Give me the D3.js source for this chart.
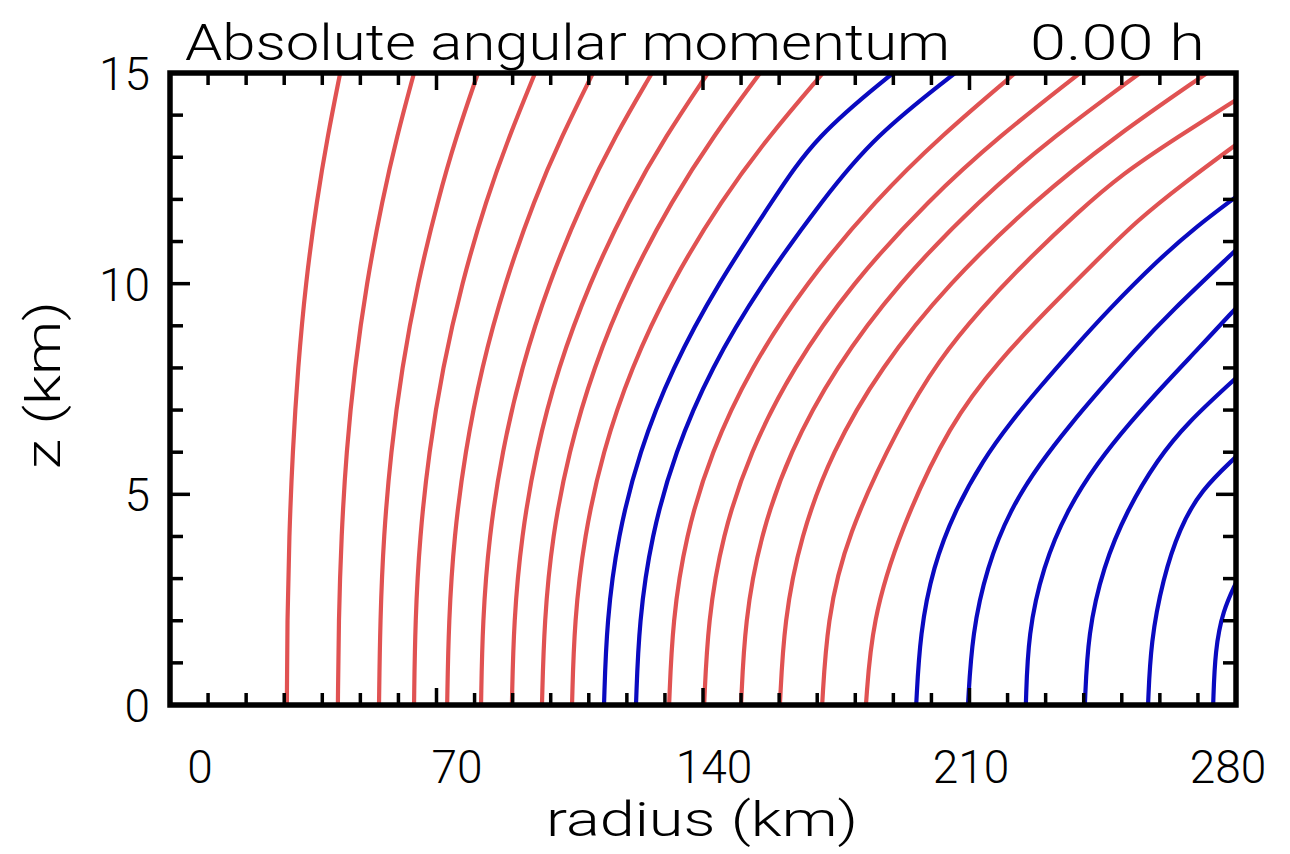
<!DOCTYPE html>
<html>
<head>
<meta charset="utf-8">
<script src="https://cdn.jsdelivr.net/npm/d3@7"></script>
<style>
  html, body { margin: 0; padding: 0; background: #fff; }
  svg { display: block; }
  text { font-family: Roboto, "DejaVu Sans", sans-serif; font-weight: 300; fill: #000; }
</style>
</head>
<body>
<svg id="chart" width="1290" height="854"></svg>
<script>
// ---- data (radius in km at given heights z in km) ----
const titleText = "Absolute angular momentum";
const timeText = "0.00 h";
const xTickLabels = [0, 70, 140, 210, 280];
const yTickLabels = [0, 5, 10, 15];
const xLabel = "radius (km)";
const yLabel = "z (km)";

// heights used for the inner contours (reach the top of the plot)
const zInner = [0, 2, 4, 6, 8, 10, 12, 13.5, 15];
const rInner = [
  [30.7, 30.8, 31.3, 32.2, 33.6, 35.6, 38.6, 41.4, 44.7],
  [44.1, 44.3, 45.0, 46.3, 48.5, 51.6, 55.8, 59.6, 64.1],
  [54.9, 55.2, 56.1, 58.0, 60.9, 65.0, 70.4, 75.2, 80.9],
  [64.1, 64.4, 65.6, 68.0, 71.6, 76.6, 83.1, 89.1, 95.9],
  [72.8, 73.2, 74.6, 77.5, 81.8, 87.9, 95.7, 102.9, 111.1],
  [81.7, 82.1, 83.8, 87.2, 92.3, 99.4, 108.6, 116.9, 126.6],
  [89.8, 90.3, 92.3, 96.1, 101.9, 110.1, 120.6, 130.2, 141.3],
  [97.7, 98.3, 100.4, 104.7, 111.2, 120.2, 132.0, 142.7, 155.0],
  [105.6, 106.2, 108.8, 113.6, 121.1, 131.5, 145.0, 157.3, 171.5],
  [114.0, 114.7, 117.6, 123.2, 131.9, 143.9, 158.5, 169.5, 189.9],
  [122.4, 123.2, 126.4, 132.6, 142.1, 155.4, 171.5, 185.0, 206.2],
  [131.1, 132.0, 135.4, 142.1, 152.5, 166.9, 185.5, 202.4, 222.0],
  [140.3, 141.3, 145.0, 152.3, 163.6, 179.1, 199.4, 217.8, 239.0],
  [150.0, 151.0, 155.0, 162.7, 174.7, 191.2, 212.7, 232.2, 254.8],
  [160.2, 161.3, 165.6, 173.8, 186.6, 204.4, 227.4, 248.3, 272.4]
];
const innerColors = ["r","r","r","r","r","r","r","r","r","b","b","r","r","r","r"];

// outer contours (leave through the right edge)
const z16 = [0, 2, 4, 6.7, 8.2, 9.4, 10.5, 11.7, 12.6, 13.5, 14.36];
const r16 = [171.3, 172.6, 177.6, 191.8, 202.0, 213.0, 224.5, 238.5, 250.0, 265.0, 280.0];
const z17 = [0, 2, 4.15, 6.7, 8.2, 9.45, 10.56, 11.5, 12.4, 13.3];
const r17 = [182.8, 184.4, 191.8, 204.9, 218.0, 231.2, 243.5, 254.0, 266.5, 280.0];
const z18 = [0, 1.71, 3.28, 4.63, 5.82, 6.69, 7.55, 8.43, 9.38, 10.56, 11.35, 12.06];
const r18 = [196.0, 197.0, 200.4, 206.2, 213.6, 220.6, 228.5, 237.0, 246.5, 259.5, 269.5, 280.0];
const z19 = [0, 1.71, 3.28, 4.63, 5.74, 6.69, 7.4, 8.43, 9.3, 10.8];
const r19 = [209.6, 210.7, 214.6, 220.6, 228.5, 236.8, 243.5, 253.5, 262.5, 280.0];
const z20 = [0, 1.71, 3.28, 4.63, 5.74, 6.69, 7.64, 8.43, 9.42];
const r20 = [224.8, 225.4, 229.3, 235.6, 243.5, 252.0, 261.5, 269.8, 280.0];
const z21 = [0, 1.71, 3.28, 4.63, 5.82, 6.69, 7.76];
const r21 = [240.3, 241.1, 245.1, 251.4, 259.3, 267.1, 280.0];
const z22 = [0, 1.5, 3.0, 4.2, 5.1, 5.89];
const r22 = [256.9, 257.6, 260.8, 265.2, 270.8, 280.0];
const z23 = [0, 1.31, 2.25, 2.9];
const r23 = [274.0, 274.5, 276.6, 280.0];
const outerZ = [z16, z17, z18, z19, z20, z21, z22, z23];
const outerR = [r16, r17, r18, r19, r20, r21, r22, r23];
const outerColors = ["r","r","b","b","b","b","b","b"];

// ---- drawing ----
const svg = d3.select("#chart");
const L = 170, R = 1236, T = 73, B = 705;
const x = d3.scaleLinear().domain([0, 280]).range([L, R]);
const y = d3.scaleLinear().domain([0, 15]).range([B, T]);
// IDL-like label placement (labels spread slightly inside the frame)
const xLab = d3.scaleLinear().domain([0, 280]).range([200, 1228]);
const colorMap = { r: "#e05252", b: "#0a0ac0" };

svg.append("defs").append("clipPath").attr("id", "clip")
  .append("rect").attr("x", L).attr("y", T).attr("width", R - L).attr("height", B - T);

const lineGen = d3.line().x(d => x(d[0])).y(d => y(d[1])).curve(d3.curveBasis);
const g = svg.append("g").attr("clip-path", "url(#clip)");

const allLines = [];
rInner.forEach((rs, i) => allLines.push({ pts: rs.map((r, j) => [r, zInner[j]]), c: innerColors[i] }));
outerR.forEach((rs, i) => allLines.push({ pts: rs.map((r, j) => [r, outerZ[i][j]]), c: outerColors[i] }));

g.selectAll("path.contour").data(allLines).join("path")
  .attr("class", "contour")
  .attr("d", d => lineGen(d.pts))
  .attr("fill", "none")
  .attr("stroke", d => colorMap[d.c])
  .attr("stroke-width", 4.2)
  .attr("stroke-linejoin", "round");

// ticks (inward)
const xMinor = d3.range(10, 280, 10);
const yMinor = d3.range(1, 15, 1);
const tickG = svg.append("g").attr("stroke", "#000").attr("stroke-width", 3.5);
xMinor.forEach(v => {
  const len = (v % 70 === 0) ? 17 : 12;
  tickG.append("line").attr("x1", x(v)).attr("x2", x(v)).attr("y1", B).attr("y2", B - len);
  tickG.append("line").attr("x1", x(v)).attr("x2", x(v)).attr("y1", T).attr("y2", T + len);
});
yMinor.forEach(v => {
  const len = (v % 5 === 0) ? 20 : 13;
  tickG.append("line").attr("y1", y(v)).attr("y2", y(v)).attr("x1", L).attr("x2", L + len);
  tickG.append("line").attr("y1", y(v)).attr("y2", y(v)).attr("x1", R).attr("x2", R - len);
});

// frame
svg.append("rect").attr("x", L).attr("y", T).attr("width", R - L).attr("height", B - T)
  .attr("fill", "none").attr("stroke", "#000").attr("stroke-width", 5.5);

// tick labels
svg.append("g").selectAll("text").data(xTickLabels).join("text")
  .attr("x", d => xLab(d)).attr("y", 783)
  .attr("text-anchor", "middle").attr("font-size", 46)
  .text(d => d);
svg.append("g").selectAll("text").data(yTickLabels).join("text")
  .attr("x", 150).attr("y", d => y(d) + 17)
  .attr("text-anchor", "end").attr("font-size", 46)
  .text(d => d);

// axis titles
svg.append("text").attr("x", 702).attr("y", 836).attr("text-anchor", "middle")
  .attr("font-size", 48).attr("textLength", 312).attr("lengthAdjust", "spacingAndGlyphs").text(xLabel);
svg.append("text").attr("transform", "translate(60,385) rotate(-90)")
  .attr("text-anchor", "middle").attr("font-size", 48)
  .attr("textLength", 168).attr("lengthAdjust", "spacingAndGlyphs").text(yLabel);

// title
svg.append("text").attr("x", 185).attr("y", 60).attr("font-size", 50)
  .attr("textLength", 765).attr("lengthAdjust", "spacingAndGlyphs").text(titleText);
svg.append("text").attr("x", 1030).attr("y", 60).attr("font-size", 50)
  .attr("textLength", 175).attr("lengthAdjust", "spacingAndGlyphs").text(timeText);
</script>
</body>
</html>
